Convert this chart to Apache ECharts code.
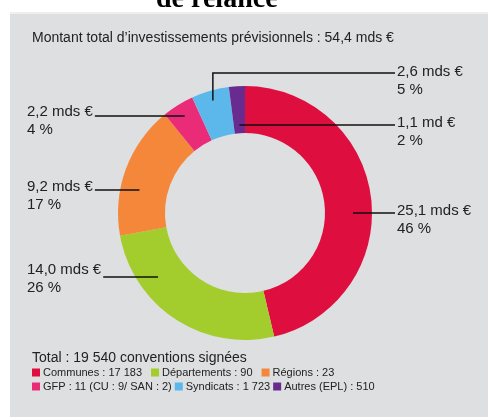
<!DOCTYPE html>
<html>
<head>
<meta charset="utf-8">
<script src="https://cdn.jsdelivr.net/npm/echarts@6/dist/echarts.min.js"></script>
<style>
  html, body { margin: 0; padding: 0; background: #fff; }
  #chart { width: 488px; height: 417px; }
</style>
</head>
<body>
<div id="chart"></div>
<script>
// données
const categories = ['Communes', 'Départements', 'Régions', 'GFP', 'Syndicats', 'Autres (EPL)'];
const amounts = [25.1, 14.0, 9.2, 2.2, 2.6, 1.1];          // mds €
const conventions = [17183, 90, 23, 11, 1723, 510];
const conventionNotes = ['', '', '', ' (CU : 9/ SAN : 2)', '', ''];
const totalInvest = '54,4';
const colors = ['#de0f3f', '#a2cd2c', '#f5873b', '#ea2c78', '#5cb8ea', '#6a2b90'];

// mise en page des étiquettes
const labelSide = [1, -1, -1, -1, 1, 1];
const labelTop = [202, 261, 178, 103, 63, 114];
const lineY = [213, 277, 190, 116, 73, 125];
const cx = 245, cy = 213, rIn = 80, rOut = 127, rMid = 108;

const fmtInt = n => String(n).replace(/\B(?=(\d{3})+(?!\d))/g, ' ');
const fmtAmount = v => v.toFixed(1).replace('.', ',') + (v < 2 ? ' md €' : ' mds €');
const sum = amounts.reduce((a, b) => a + b, 0);
const pct = amounts.map(v => Math.round(v / sum * 100));

// angles (degrés, sens horaire depuis le haut)
const bounds = [];
let acc = 0;
amounts.forEach(v => { const a0 = acc / sum * 360; acc += v; bounds.push([a0, acc / sum * 360]); });

function anchor(i, y) {
  const [a0, a1] = bounds[i];
  const mid = (a0 + a1) / 2 * Math.PI / 180;
  const dy = cy - y;
  const r = dy / Math.cos(mid);
  if (r > rIn + 5 && r < rOut - 5) return [cx + r * Math.sin(mid), y];
  const dx = labelSide[i] * Math.sqrt(Math.max(rMid * rMid - dy * dy, 0));
  return [cx + dx, y];
}

const chart = echarts.init(document.getElementById('chart'));

const pieData = categories.map((c, i) => ({ name: c, value: amounts[i] }));

chart.setOption({
  backgroundColor: '#fff',
  color: colors,
  graphic: [
    { type: 'rect', z: -10, shape: { x: 10, y: 12, width: 478, height: 405 }, style: { fill: '#dddfe1' } },
    { type: 'rect', z: -9, shape: { x: 10, y: 12, width: 478, height: 2 }, style: { fill: '#eeeff0' } }
  ],
  title: [
    { text: 'de relance', left: 156, top: -14, padding: 0,
      textStyle: { fontFamily: 'Liberation Serif', fontWeight: 'bold', fontSize: 28, color: '#000' } },
    { text: 'Montant total d’investissements prévisionnels : ' + totalInvest + ' mds €', left: 32, top: 31, padding: 0,
      textStyle: { fontFamily: 'Liberation Sans', fontWeight: 'normal', fontSize: 14, color: '#222' } },
    { text: 'Total : ' + fmtInt(conventions.reduce((a, b) => a + b, 0)) + ' conventions signées', left: 32, top: 351, padding: 0,
      textStyle: { fontFamily: 'Liberation Sans', fontWeight: 'normal', fontSize: 14, color: '#222' } }
  ],
  legend: [0, 1].map(row => ({
    data: categories.slice(row * 3, row * 3 + 3),
    left: 32,
    top: 367 + row * 14,
    orient: 'horizontal',
    itemWidth: 8,
    itemHeight: 8,
    itemGap: row === 0 ? 9 : 3,
    icon: 'rect',
    padding: 0,
    formatter: name => {
      const i = categories.indexOf(name);
      return name + ' : ' + fmtInt(conventions[i]) + conventionNotes[i];
    },
    textStyle: { fontFamily: 'Liberation Sans', fontSize: 11, color: '#222', padding: [0, 0, 0, -2] }
  })),
  series: [{
    type: 'pie',
    center: [cx, cy],
    radius: [rIn, rOut],
    startAngle: 90,
    clockwise: true,
    silent: true,
    data: pieData,
    label: { show: false },
    labelLine: { show: false }
  }, {
    // série transparente au-dessus, porteuse des étiquettes et des traits
    type: 'pie',
    z: 5,
    center: [cx, cy],
    radius: [rIn, rOut],
    startAngle: 90,
    clockwise: true,
    avoidLabelOverlap: false,
    silent: true,
    data: pieData,
    itemStyle: { color: 'rgba(0,0,0,0)' },
    label: {
      show: true,
      formatter: p => fmtAmount(amounts[p.dataIndex]) + '\n' + pct[p.dataIndex] + ' %',
      fontFamily: 'Liberation Sans',
      fontSize: 15,
      lineHeight: 18,
      color: '#222'
    },
    labelLine: { show: true, lineStyle: { color: '#111', width: 1.5 } },
    labelLayout: p => {
      const i = p.dataIndex;
      const left = labelSide[i] < 0;
      const x = left ? 27 : 397;
      const ly = lineY[i];
      let pts;
      if (cy - ly > rOut) {
        const m = (bounds[i][0] + bounds[i][1]) / 2 * Math.PI / 180;
        const ex = cx + (rOut - 10) * Math.sin(m), ey = cy - (rOut - 10) * Math.cos(m);
        pts = [[ex, ey], [ex, ly], [x - 2, ly]];
      } else {
        const a = anchor(i, ly);
        const end = left ? x + p.labelRect.width + 2 : x - 2;
        pts = [a, [(a[0] + end) / 2, ly], [end, ly]];
      }
      return { x: x, y: labelTop[i], align: 'left', verticalAlign: 'top', labelLinePoints: pts };
    }
  }]
});
</script>
</body>
</html>
